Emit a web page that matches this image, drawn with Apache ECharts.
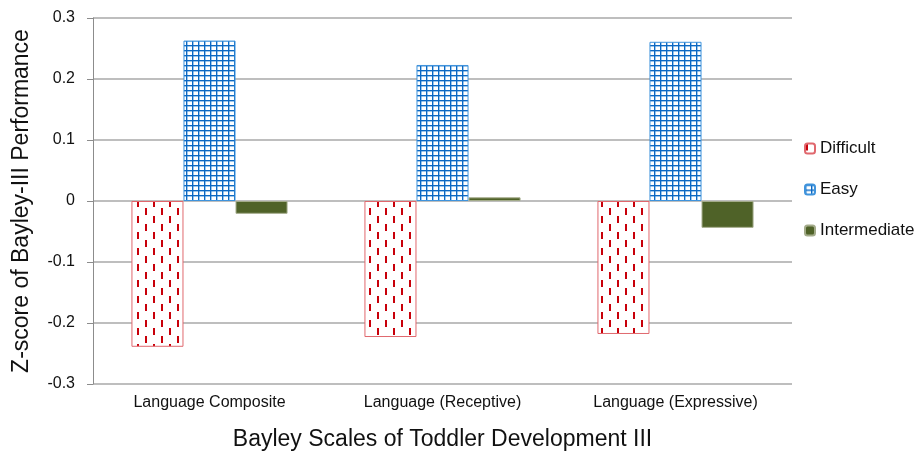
<!DOCTYPE html>
<html>
<head>
<meta charset="utf-8">
<script src="https://cdn.jsdelivr.net/npm/echarts@6/dist/echarts.min.js"></script>
<style>html,body{margin:0;padding:0;background:#fff;}#c{width:919px;height:454px;}</style>
</head>
<body>
<div id="c"></div>
<script>
const categories = ['Language Composite', 'Language (Receptive)', 'Language (Expressive)'];
const difficult = [-0.239, -0.223, -0.218];
const easy = [0.263, 0.223, 0.261];
const intermediate = [-0.021, 0.006, -0.044];
const yTicks = [-0.3, -0.2, -0.1, 0, 0.1, 0.2, 0.3];

function dashPattern() {
  const c = document.createElement('canvas');
  c.width = 16; c.height = 16;
  const g = c.getContext('2d');
  g.fillStyle = '#ffffff'; g.fillRect(0, 0, 16, 16);
  g.fillStyle = '#c8000a';
  g.fillRect(1, 0, 2, 7);
  g.fillRect(9, 8, 2, 7);
  return c;
}
function gridPattern() {
  const c = document.createElement('canvas');
  c.width = 6; c.height = 5;
  const g = c.getContext('2d');
  g.fillStyle = '#ffffff'; g.fillRect(0, 0, 6, 5);
  g.fillStyle = '#0d68c2';
  g.fillRect(0, 0, 6, 1);
  g.fillRect(0, 0, 1, 5);
  g.fillStyle = 'rgba(40,130,210,0.45)';
  g.fillRect(1, 1, 5, 1);
  g.fillRect(1, 1, 1, 4);
  return c;
}

const chart = echarts.init(document.getElementById('c'), null, {renderer: 'canvas'});
const font = 'Liberation Sans, Arial, Helvetica, sans-serif';
chart.setOption({
  animation: false,
  backgroundColor: '#ffffff',
  textStyle: {fontFamily: font},
  grid: {left: 93, right: 127, top: 18, bottom: 70, containLabel: false, outerBoundsMode: 'none'},
  legend: {
    orient: 'vertical', left: 804, top: 140, padding: 0,
    itemWidth: 10, itemHeight: 10, itemGap: 24,
    textStyle: {fontSize: 17, lineHeight: 17, color: '#111', fontFamily: font},
    data: ['Difficult', 'Easy', 'Intermediate']
  },
  xAxis: {
    type: 'category', data: categories,
    position: 'bottom',
    axisLine: {show: false, onZero: false},
    axisTick: {show: false},
    axisLabel: {fontSize: 16, color: '#111', margin: 11, fontFamily: font},
    name: 'Bayley Scales of Toddler Development III',
    nameLocation: 'middle', nameGap: 44,
    nameTextStyle: {fontSize: 23, color: '#111', fontFamily: font}
  },
  yAxis: {
    type: 'value', min: -0.3, max: 0.3, interval: 0.1,
    axisLine: {show: true, lineStyle: {color: '#8c8c8c', width: 1}},
    axisTick: {show: true, length: 6, lineStyle: {color: '#8c8c8c'}},
    splitLine: {show: true, lineStyle: {color: '#a8a8a8', width: 1.5}},
    axisLabel: {fontSize: 16, color: '#111', margin: 18, fontFamily: font,
      formatter: function (v) { const r = Math.round(v * 10) / 10; return r === 0 ? '0' : String(r); }},
    name: 'Z-score of Bayley-III Performance',
    nameLocation: 'middle', nameGap: 60, nameRotate: 90,
    nameTextStyle: {fontSize: 23, color: '#111', fontFamily: font}
  },
  series: [
    {name: 'Difficult', type: 'bar', data: difficult, barGap: '0%', barCategoryGap: '33%',
      itemStyle: {color: {image: dashPattern(), repeat: 'repeat'}, borderColor: '#e0686e', borderWidth: 1}},
    {name: 'Easy', type: 'bar', data: easy,
      itemStyle: {color: {image: gridPattern(), repeat: 'repeat'}, borderColor: '#3f93dc', borderWidth: 1}},
    {name: 'Intermediate', type: 'bar', data: intermediate,
      itemStyle: {color: '#4f6228', borderColor: '#a3ab8a', borderWidth: 1}}
  ]
});
</script>
</body>
</html>
